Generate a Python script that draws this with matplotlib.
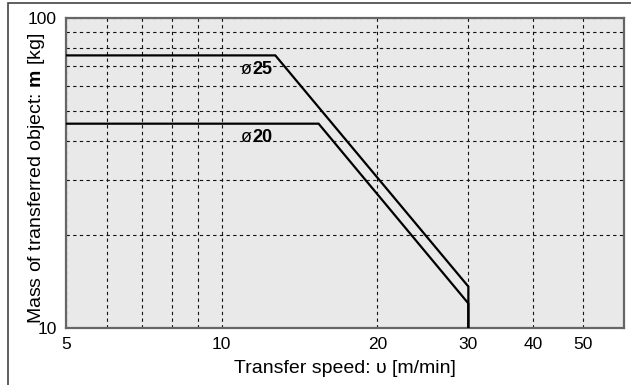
import matplotlib
matplotlib.use("Agg")
import matplotlib.pyplot as plt
from matplotlib.patches import Rectangle

plt.rcParams['font.family'] = ['Liberation Sans', 'DejaVu Sans']
plt.rcParams['mathtext.fontset'] = 'custom'
plt.rcParams['mathtext.rm'] = 'Liberation Sans'
plt.rcParams['mathtext.bf'] = 'Liberation Sans:bold'

# Data
speed_d25 = [5, 12.7, 30, 30]
mass_d25 = [75.5, 75.5, 13.6, 10]
speed_d20 = [5, 15.4, 30, 30]
mass_d20 = [45.5, 45.5, 12.0, 10]

x_major_ticks = [5, 10, 20, 30, 40, 50]
x_tick_labels = ['5', '10', '20', '30', '40', '50']
x_minor_ticks = [6, 7, 8, 9]
y_major_ticks = [10, 100]
y_tick_labels = ['10', '100']
y_minor_ticks = [20, 30, 40, 50, 60, 70, 80, 90]

fig = plt.figure(figsize=(6.31, 3.85), dpi=100)
ax = fig.add_axes([66/631, (385-328)/385, (624-66)/631, (328-17.5)/385])
ax.set_facecolor('#e9e9e9')
ax.set_xscale('log')
ax.set_yscale('log')
ax.set_xlim(5, 60)
ax.set_ylim(10, 100)

ax.set_xticks(x_major_ticks)
ax.set_xticklabels(x_tick_labels)
ax.set_xticks(x_minor_ticks, minor=True)
ax.set_xticklabels([], minor=True)
ax.set_yticks(y_major_ticks)
ax.set_yticklabels(y_tick_labels)
ax.set_yticks(y_minor_ticks, minor=True)
ax.set_yticklabels([], minor=True)

ax.tick_params(which='both', length=0, labelsize=12.5, pad=6.5)
ax.grid(True, which='both', color='#111111', linewidth=0.8, linestyle=(0, (3, 3)))
ax.set_axisbelow(True)

for s in ax.spines.values():
    s.set_color('#666666')
    s.set_linewidth(1.6)

ax.plot(speed_d25, mass_d25, color='black', linewidth=1.6, solid_joinstyle='miter', zorder=3)
ax.plot(speed_d20, mass_d20, color='black', linewidth=1.6, solid_joinstyle='miter', zorder=3)

# labels
ax.text(11.45, 67.8, 'ø', ha='right', va='center', fontsize=13, zorder=4)
ax.text(11.45, 67.8, '25', ha='left', va='center', fontsize=13, fontweight='bold', zorder=4)
ax.text(11.45, 41.2, 'ø', ha='right', va='center', fontsize=13, zorder=4)
ax.text(11.45, 41.2, '20', ha='left', va='center', fontsize=13, fontweight='bold', zorder=4)

ax.set_xlabel('Transfer speed: υ [m/min]', fontsize=14)
ax.xaxis.set_label_coords(0.5, -0.129)
ax.xaxis.label.set_va('center')
ax.set_ylabel(r'Mass of transferred object: $\mathbf{m}$ [kg]', fontsize=14)
ax.yaxis.set_label_coords(-0.052, 0.48)
ax.yaxis.label.set_va('center')

# figure border
border = Rectangle((8/631, -0.05), 1.0, 1 - 3/385 + 0.05, transform=fig.transFigure,
                   fill=False, edgecolor='#444444', linewidth=1.2, clip_on=False)
fig.patches.append(border)

fig.savefig('out.png', dpi=100)
